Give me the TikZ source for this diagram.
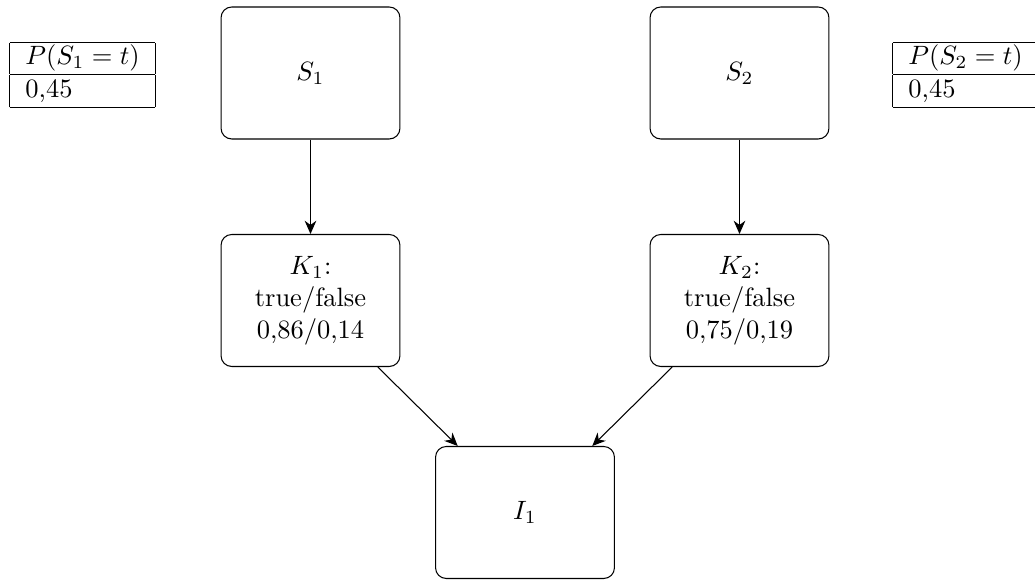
\documentclass[tikz,border=0pt]{standalone}
\usetikzlibrary{arrows.meta}
\begin{document}
\begin{tikzpicture}[x=0.3774pt,y=-0.3774pt,
  varbox/.style={draw,rounded corners=4pt,minimum width=67.5pt,minimum height=49.8pt,align=center,inner sep=2pt},
  cpt/.style={inner sep=0pt,anchor=north west},
  link/.style={-{Stealth[length=5pt,width=4.4pt,inset=1.6pt]}}]
\useasboundingbox (0,0) rectangle (1035,580);

% variable nodes
\node[varbox] (S1) at (310.5,73) {$S_1$};
\node[varbox] (S2) at (739.5,73) {$S_2$};
\node[varbox] (K1) at (310.5,300.5) {$K_1$:\\true/false\\0,86/0,14};
\node[varbox] (K2) at (739.5,300.5) {$K_2$:\\true/false\\0,75/0,19};
\node[varbox] (I1) at (525,512.5) {$I_1$};

% prior probability tables
\node[cpt] (T1) at (9,41) {\begin{tabular}{|l|}\hline \makebox[43pt][l]{$P(S_1=t)$}\\\hline 0,45\\\hline\end{tabular}};
\node[cpt] (T2) at (892,41) {\begin{tabular}{|l|}\hline \makebox[43pt][l]{$P(S_2=t)$}\\\hline 0,45\\\hline\end{tabular}};

% dependencies
\draw[link] (S1) -- (K1);
\draw[link] (S2) -- (K2);
\draw[link] (K1) -- (I1);
\draw[link] (K2) -- (I1);
\end{tikzpicture}
\end{document}
